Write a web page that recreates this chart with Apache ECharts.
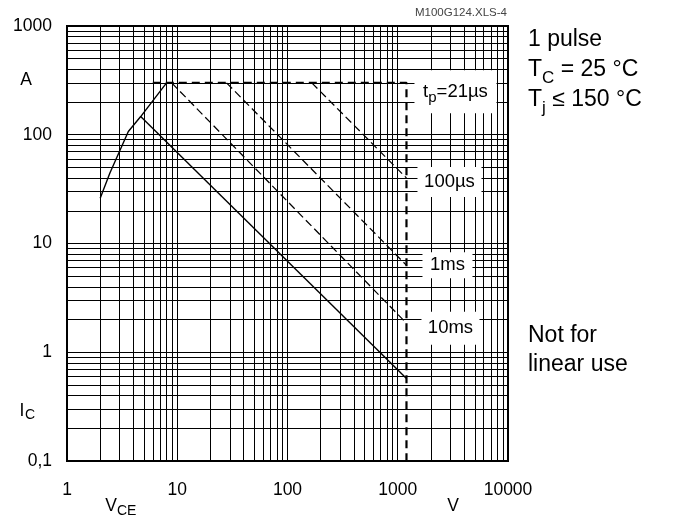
<!DOCTYPE html>
<html><head><meta charset="utf-8">
<script src="https://cdn.jsdelivr.net/npm/echarts@6/dist/echarts.min.js"></script>
<style>html,body{margin:0;padding:0;background:#fff}#c{width:678px;height:520px}</style>
</head><body><div id="c"></div>
<script>
// ---- data ----
const xTickLabels = ['1', '10', '100', '1000', '10000'];
const yTickLabels = ['0,1', '1', '10', '100', '1000'];
const xMinor = [2,3,4,5,6,7,8,9, 20,30,40,50,60,70,80,90, 200,300,400,500,600,700,800,900, 2000,3000,4000,5000,6000,7000,8000,9000];
const yMinor = [0.2,0.3,0.4,0.5,0.6,0.7,0.8,0.9, 2,3,4,5,6,7,8,9, 20,30,40,50,60,70,80,90, 200,300,400,500,600,700,800,900];

const envelopeV = [2, 2.45, 3.6, 4.66, 8];
const envelopeI = [26, 44.5, 107, 147, 300];
const dcV = [4.66, 1200];
const dcI = [147, 0.575];
const ms10V = [8.9, 1200];
const ms10I = [300, 1.85];
const ms1V = [28, 1200];
const ms1I = [300, 6.3];
const us100V = [166, 1200];
const us100I = [300, 40];
const tpV = [6, 1200, 1200];
const tpI = [300, 300, 0.1];
const curveLabels = ['{n|t}{s|p}{n|=21µs}', '{n|100µs}', '{n|1ms}', '{n|10ms}'];

// ---- chart ----
const FONT = '"Liberation Sans", Arial, sans-serif';
const pairs = (xs, ys) => xs.map((x, i) => [x, ys[i]]);
const chart = echarts.init(document.getElementById('c'), null, {renderer: 'canvas'});

const minorLines = xMinor.map(v => ({xAxis: v})).concat(yMinor.map(v => ({yAxis: v})));

const thin = {color: '#000', width: 1.25, type: [8, 4]};
const txt = (x, y, text, size, align, extra) => ({type: 'text', x, y, z: 100,
  style: Object.assign({text, fill: '#000', font: size + 'px ' + FONT, textAlign: align || 'left', textVerticalAlign: 'middle'}, extra || {})});
const subRich = (main, sub, pad) => ({
  n: {fontSize: main, fontFamily: FONT, fill: '#000'},
  s: {fontSize: sub, fontFamily: FONT, fill: '#000', padding: [pad, 0, 0, 0]}
});

const option = {
  animation: false,
  backgroundColor: '#fff',
  grid: {left: 67, top: 26, right: 170, bottom: 59, show: true, borderColor: '#000', borderWidth: 2},
  xAxis: {
    type: 'log', logBase: 10, min: 1, max: 10000,
    axisLine: {show: true, lineStyle: {color: '#000', width: 2}},
    axisTick: {show: false},
    splitLine: {show: true, lineStyle: {color: '#000', width: 1}},
    axisLabel: {margin: 20, fontSize: 17.5, fontFamily: FONT, color: '#000',
      formatter: (v, i) => xTickLabels[i]}
  },
  yAxis: {
    type: 'log', logBase: 10, min: 0.1, max: 1000,
    axisLine: {show: true, lineStyle: {color: '#000', width: 2}},
    axisTick: {show: false},
    splitLine: {show: true, lineStyle: {color: '#000', width: 1}},
    axisLabel: {margin: 15, fontSize: 17.5, fontFamily: FONT, color: '#000',
      formatter: (v, i) => yTickLabels[i]}
  },
  series: [
    {type: 'line', z: 1, data: [[1, 0.1]], symbol: 'none', lineStyle: {width: 0}, silent: true,
      markLine: {silent: true, symbol: 'none', label: {show: false},
        lineStyle: {color: '#000', width: 1, type: 'solid'}, data: minorLines}},
    {type: 'line', z: 3, data: pairs(envelopeV, envelopeI), symbol: 'none', lineStyle: {color: '#000', width: 1.4}},
    {type: 'line', z: 3, data: pairs(dcV, dcI), symbol: 'none', lineStyle: {color: '#000', width: 1.4}},
    {type: 'line', z: 3, data: pairs(ms10V, ms10I), symbol: 'none', lineStyle: thin},
    {type: 'line', z: 3, data: pairs(ms1V, ms1I), symbol: 'none', lineStyle: thin},
    {type: 'line', z: 3, data: pairs(us100V, us100I), symbol: 'none', lineStyle: thin},
    {type: 'line', z: 4, data: pairs(tpV, tpI), symbol: 'none', lineStyle: {color: '#000', width: 2.2, type: [8, 5]}}
  ]
};
chart.setOption(option);

// curve labels: white boxes anchored to each curve's end point via the chart's scales
const labelSpecs = [
  {at: [tpV[1], tpI[1]], w: 82, h: 43, dx: 49, dy: 9},
  {at: [us100V[1], us100I[1]], w: 64, h: 30, dx: 43, dy: 4},
  {at: [ms1V[1], ms1I[1]], w: 50, h: 26, dx: 41, dy: 0},
  {at: [ms10V[1], ms10I[1]], w: 58, h: 33, dx: 44, dy: 5}
];
const graphics = [];
labelSpecs.forEach((s, i) => {
  const p = chart.convertToPixel({gridIndex: 0}, s.at);
  const cx = p[0] + s.dx, cy = p[1] + s.dy;
  graphics.push({type: 'rect', z: 90, shape: {x: cx - s.w / 2, y: cy - s.h / 2, width: s.w, height: s.h}, style: {fill: '#fff'}});
  graphics.push({type: 'text', x: cx, y: cy, z: 100, style: {text: curveLabels[i], textAlign: 'center', textVerticalAlign: 'middle', rich: subRich(18.5, 15, 11)}});
});

graphics.push(
  txt(507, 13, 'M100G124.XLS-4', 11.5, 'right', {fill: '#444'}),
  txt(26, 80.5, 'A', 17.5, 'center'),
  txt(22, 411, 'I', 17.5, 'center'),
  txt(25, 415, 'C', 14, 'left'),
  txt(111, 506, 'V', 17.5, 'center'),
  txt(117, 511.5, 'CE', 14, 'left'),
  txt(453, 506, 'V', 17.5, 'center'),
  txt(528, 39.5, '1 pulse', 23, 'left'),
  {type: 'text', x: 528, y: 70, z: 100, style: {text: '{n|T}{s|C}{n| = 25 °C}', textAlign: 'left', textVerticalAlign: 'middle', rich: subRich(23, 17, 16)}},
  {type: 'text', x: 528, y: 100, z: 100, style: {text: '{n|T}{s|j}{n| ≤ 150 °C}', textAlign: 'left', textVerticalAlign: 'middle', rich: subRich(23, 17, 16)}},
  txt(528, 335.5, 'Not for', 23, 'left'),
  txt(528, 365, 'linear use', 23, 'left')
);
chart.setOption({graphic: graphics});
</script>
</body></html>
